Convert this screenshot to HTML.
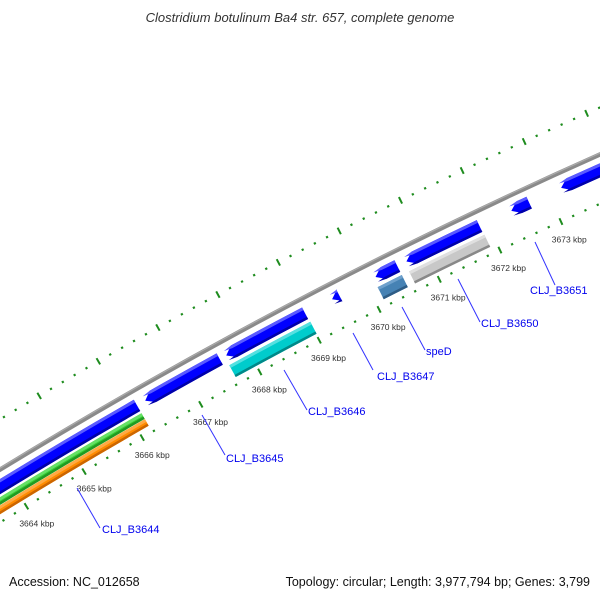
<!DOCTYPE html>
<html><head><meta charset="utf-8"><style>
html,body{margin:0;padding:0;background:#fff;width:600px;height:600px;overflow:hidden;}
svg{display:block;overflow:hidden;font-family:"Liberation Sans","DejaVu Sans",sans-serif;}
</style></head><body>
<svg id="map" width="600" height="600" viewBox="0 0 600 600" xmlns="http://www.w3.org/2000/svg">
<rect width="600" height="600" fill="#fff"/>
<g id="ticks"></g>
<g id="backbone"></g>
<g id="feats"></g>
<g id="labels"></g>
<text x="300" y="22" text-anchor="middle" font-size="13" font-style="italic" fill="#333">Clostridium botulinum Ba4 str. 657, complete genome</text>
<text x="9" y="586" font-size="12.5" fill="#111">Accession: NC_012658</text>
<text x="590" y="586" text-anchor="end" font-size="12.5" fill="#111">Topology: circular; Length: 3,977,794 bp; Genes: 3,799</text>
</svg>
<script>
// feature data (kbp)
const featStart = [3663.0, 3666.31, 3667.68, 3669.45, 3670.17, 3670.68, 3672.40, 3673.21, 3663.0, 3663.0, 3667.65, 3670.13, 3670.65];
const featEnd   = [3666.17, 3667.57, 3669.00, 3669.57, 3670.53, 3671.88, 3672.69, 3675.5, 3666.17, 3666.17, 3669.01, 3670.53, 3671.89];
const featRing  = ["cds","cds","cds","cds","cds","cds","cds","cds","green","orange","cyan","steel","gray"];
const featArrow = [true,true,true,true,true,true,true,true,false,false,false,false,false];
const tickKbp = [3662,3663,3664,3665,3666,3667,3668,3669,3670,3671,3672,3673,3674,3675];
const labelNames = ["CLJ_B3644","CLJ_B3645","CLJ_B3646","CLJ_B3647","speD","CLJ_B3650","CLJ_B3651"];
const labelLine = [[77,488,100,528],[202,415,225,455],[284,370,307,410],[353,333,373,370],[402,307,425,350],[458,279,480,322],[535,242,555,285]];
const labelPos = [[102,533],[226,462],[308,415],[377,380],[426,355],[481,327],[530,294]];

const NS="http://www.w3.org/2000/svg";
const CX=2708, CY=4896;
function ang(k){return (240.08+(k-3666)*0.75)*Math.PI/180;}
function pt(k,r){const a=ang(k);return [CX+r*Math.cos(a),CY+r*Math.sin(a)];}
function mk(tag,attrs,parent){const e=document.createElementNS(NS,tag);for(const k in attrs)e.setAttribute(k,attrs[k]);parent.appendChild(e);return e;}
function f(p){return p[0].toFixed(2)+","+p[1].toFixed(2);}
function band(k1,k2,r1,r2,arrow){
  const ha=arrow?0.13:0;
  const a=pt(k1+ha,r2),b=pt(k2,r2),c=pt(k2,r1),d=pt(k1+ha,r1),t=pt(k1,(r1+r2)/2);
  let s="M"+f(a)+" A"+r2+","+r2+" 0 0 1 "+f(b)+" L"+f(c)+" A"+r1+","+r1+" 0 0 0 "+f(d);
  if(arrow) s+=" L"+f(t);
  return s+" Z";
}
const ringDef={cds:[5168,5181,"#0000ff","#5a5aff","#0000a8"],green:[5159,5165.5,"#33cc33","#66e066","#229922"],orange:[5151,5158.5,"#ff8c00","#ffaa44","#cc6600"],cyan:[5151,5164.5,"#00cccc","#55e0e0","#008888"],steel:[5151,5164.5,"#4682b4","#6ea0cc","#2e5c85"],gray:[5151,5164.5,"#c8c8c8","#e0e0e0","#888888"]};

// ticks
const tg=document.getElementById('ticks');
[5144,5232].forEach(function(r,ri){
  for(let i=0;i<tickKbp.length-1;i++){
    for(let j=0;j<5;j++){
      const k=tickKbp[i]+j*0.2;
      const L=j===0?3.6:1.1;
      const p1=pt(k,r-L),p2=pt(k,r+L);
      const ln=mk('line',{x1:p1[0],y1:p1[1],x2:p2[0],y2:p2[1],stroke:"#1e8c1e","stroke-width":j===0?2:2.2},tg);
      
      
    }
  }
});
tickKbp.forEach(function(k){
  const p=pt(k,5124);
  if(p[1]>560) return;
  const t=mk('text',{x:p[0],y:p[1]+3,"text-anchor":"middle","font-size":"8.5",fill:"#333"},tg);
  t.textContent=k+" kbp";
  
  
});
// backbone
const bb=document.getElementById('backbone');
const b1=pt(3658,5189),b2=pt(3678,5189);
let e=mk('path',{d:"M"+f(b1)+" A5189,5189 0 0 1 "+f(b2),fill:"none",stroke:"#8a8a8a","stroke-width":4.5},bb);


const c1=pt(3658,5190.3),c2=pt(3678,5190.3);
e=mk('path',{d:"M"+f(c1)+" A5190.3,5190.3 0 0 1 "+f(c2),fill:"none",stroke:"#aaaaaa","stroke-width":1.2},bb);


// features
const fg=document.getElementById('feats');
for(let i=0;i<featStart.length;i++){
  const d=ringDef[featRing[i]];
  const g=mk('g',{},fg);
  
  
  mk('path',{d:band(featStart[i],featEnd[i],d[0],d[1],featArrow[i]),fill:d[2]},g);
  mk('path',{d:band(featStart[i],featEnd[i],d[1]-3,d[1],featArrow[i]),fill:d[3]},g);
  mk('path',{d:band(featStart[i],featEnd[i],d[0],d[0]+2.5,featArrow[i]),fill:d[4]},g);
}
// labels
const lg=document.getElementById('labels');
for(let i=0;i<labelNames.length;i++){
  const l=labelLine[i];
  const ln=mk('line',{x1:l[0],y1:l[1],x2:l[2],y2:l[3],stroke:"#3333ff","stroke-width":1},lg);
  
  
  const t=mk('text',{x:labelPos[i][0],y:labelPos[i][1],"font-size":"11",fill:"#0000ee"},lg);
  t.textContent=labelNames[i];
  
  
}
</script>
</body></html>
